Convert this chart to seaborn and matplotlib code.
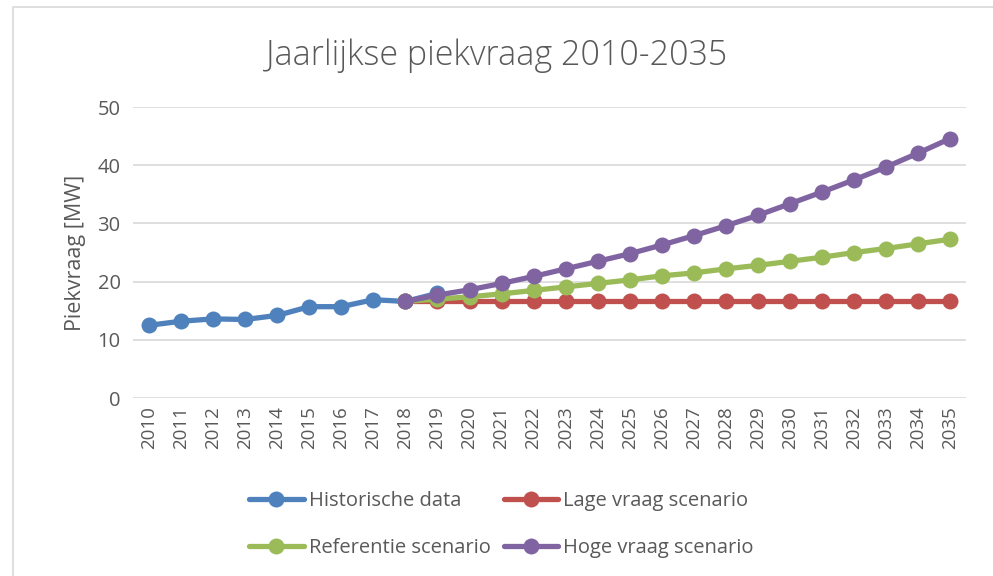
import pandas as pd
import matplotlib
matplotlib.use("Agg")
import matplotlib.pyplot as plt
import seaborn as sn
from matplotlib.patches import Rectangle

years = list(range(2010, 2036))

historisch = [12.5, 13.2, 13.6, 13.5, 14.2, 15.7, 15.7, 16.9, 16.6, 18.0]
laag = [16.6] * 18
referentie = [16.6, 17.0, 17.4, 17.9, 18.5, 19.1, 19.7, 20.3, 21.0, 21.5,
              22.2, 22.8, 23.5, 24.2, 25.0, 25.7, 26.5, 27.3]
hoog = [16.6, 17.7, 18.6, 19.7, 20.9, 22.2, 23.5, 24.8, 26.3, 27.9,
        29.6, 31.4, 33.4, 35.4, 37.5, 39.7, 42.1, 44.6]

labels = ["Historische data", "Lage vraag scenario", "Referentie scenario", "Hoge vraag scenario"]
colors = ["#4F81BD", "#C0504D", "#9BBB59", "#8064A2"]

sn.set_style("white")
plt.rcParams["font.family"] = ["Open Sans", "DejaVu Sans"]
grey = "#595959"

fig = plt.figure(figsize=(9.93, 5.76), dpi=100)
ax = fig.add_axes([0.134, 0.309, 0.839, 0.505])

series = [historisch, laag, referentie, hoog]
starts = [0, 8, 8, 8]
for vals, s, lab, col in zip(series, starts, labels, colors):
    df = pd.DataFrame({"x": range(s, s + len(vals)), "y": vals})
    sn.lineplot(data=df, x="x", y="y", ax=ax, color=col, linewidth=3.8,
                marker="o", markersize=11.5, markeredgewidth=0, label=lab)

ax.set_xlim(-0.5, len(years) - 0.5)
ax.set_ylim(0, 50)
ax.set_yticks(range(0, 51, 10))
ax.set_xticks(range(len(years)))
ax.set_xticklabels([str(y) for y in years], rotation=90)
ax.tick_params(axis="both", colors=grey, length=0)
ax.tick_params(axis="y", pad=9, labelsize=14.5)
ax.tick_params(axis="x", pad=6, labelsize=13.5)
ax.grid(axis="y", color="#D9D9D9", linewidth=1.2)
ax.grid(axis="x", visible=False)
for sp in ax.spines.values():
    sp.set_visible(False)
ax.set_axisbelow(True)

ax.set_xlabel("")
ax.set_ylabel("Piekvraag [MW]", color=grey, fontsize=15.5, labelpad=8)
fig.suptitle("Jaarlijkse piekvraag 2010-2035", color=grey, fontsize=24.5,
             fontweight="light", y=0.933)

h, l = ax.get_legend_handles_labels()
order = [0, 2, 1, 3]
ax.legend([h[i] for i in order], [l[i] for i in order],
          loc="center", bbox_to_anchor=(0.442, -0.435), ncol=2, frameon=False,
          fontsize=14.5, labelcolor=grey, handlelength=2.7, handletextpad=0.25,
          columnspacing=0.65, labelspacing=1.3)

fig.patches.append(Rectangle((13 / 993, -0.05), 1.0, 1 - 7 / 576 + 0.05,
                             transform=fig.transFigure, fill=False,
                             edgecolor="#D9D9D9", linewidth=1.2))

fig.savefig("out.png", dpi=100)
